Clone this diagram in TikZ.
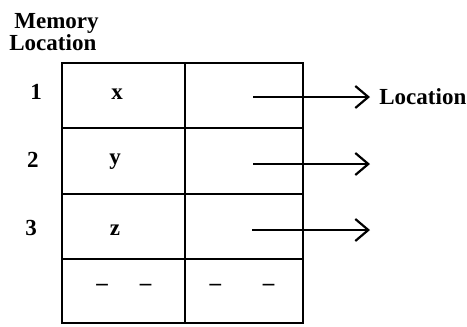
\documentclass[tikz,border=0pt]{standalone}
\usepackage{fontspec}
\setmainfont{Liberation Serif}
\usetikzlibrary{arrows.meta}
\begin{document}
\begin{tikzpicture}[x=0.5pt,y=-0.5pt,
  grid/.style={line width=1.3pt},
  lbl/.style={font=\fontsize{11.5}{13}\selectfont\bfseries, inner sep=0pt},
  ptr/.style={line width=1.1pt,-{Straight Barb[length=6.5pt,width=11pt,line width=1.1pt]}}]
\useasboundingbox (0,0) rectangle (467,327);
% title
\node[lbl, anchor=base west] (mem) at (14,28) {Memory};
\node[lbl, anchor=base west] (locl) at (9,50) {Location};
% grid
\draw[grid] (62,63) rectangle (303,323);
\draw[grid] (185,63) -- (185,323);
\draw[grid] (62,128) -- (303,128);
\draw[grid] (62,194) -- (303,194);
\draw[grid] (62,259) -- (303,259);
% row numbers
\node[lbl] (n1) at (36,92) {1};
\node[lbl] (n2) at (33,160) {2};
\node[lbl] (n3) at (31,228) {3};
% cell texts
\node[lbl] (cx) at (117,94) {x};
\node[lbl] (cy) at (115,162) {y};
\node[lbl] (cz) at (115,230) {z};
\node[lbl] (d1) at (124,287) {--\hspace{16pt}--};
\node[lbl] (d2) at (242,287) {--\hspace{21pt}--};
% pointers
\coordinate (s1) at (253,97);
\coordinate (s2) at (253,164);
\coordinate (s3) at (252,230);
\node[lbl, anchor=west] (loc) at (379,97) {Location};
\coordinate (e2) at (370,164);
\coordinate (e3) at (370,230);
\draw[ptr, shorten >=4.5pt] (s1) -- (loc.west);
\draw[ptr] (s2) -- (e2);
\draw[ptr] (s3) -- (e3);
\end{tikzpicture}
\end{document}
